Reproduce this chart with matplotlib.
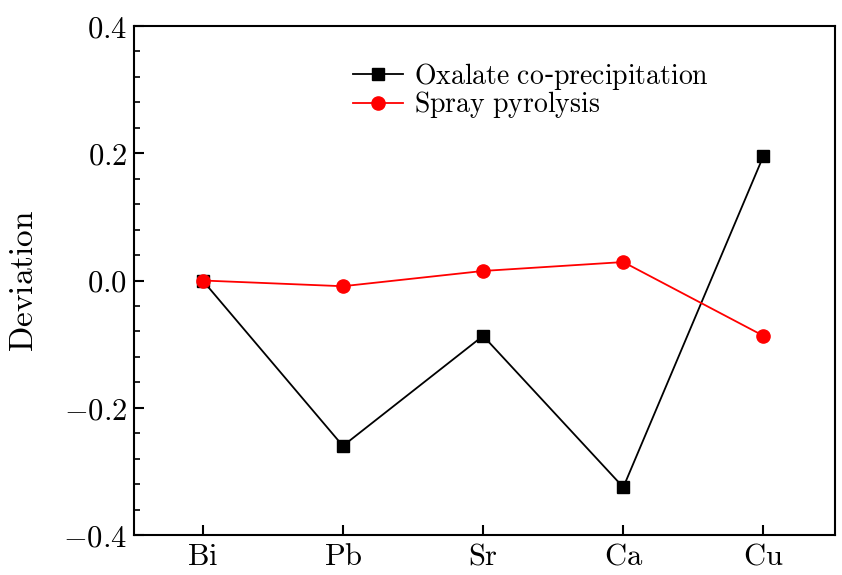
import matplotlib
matplotlib.use("Agg")
import matplotlib.pyplot as plt
from matplotlib.ticker import MultipleLocator

plt.rcParams['mathtext.fontset'] = 'cm'
plt.rcParams['axes.formatter.use_mathtext'] = True

## data ##
elements = ["Bi", "Pb", "Sr", "Ca", "Cu"]
oxalate = [0.0, -0.26, -0.087, -0.325, 0.196]
spray = [0.0, -0.009, 0.015, 0.029, -0.087]


def cm_text(s):
    # computer modern through mathtext
    return r"$\mathrm{%s}$" % s.replace(" ", r"\ ")


fig = plt.figure(figsize=(8.42, 5.75), dpi=100)
ax = fig.add_axes([134/842, 1 - 535/575, (835-134)/842, (535-26)/575])

x = list(range(len(elements)))
ax.plot(x, oxalate, 'k-', marker='s', markersize=8, lw=1.3,
        label=r"$\mathrm{Oxalate\ co}$-$\mathrm{precipitation}$")
ax.plot(x, spray, '-', color='red', marker='o', markersize=9.5, lw=1.3,
        label=cm_text("Spray pyrolysis"))

ax.set_xlim(-0.49, 4.51)
ax.set_ylim(-0.4, 0.4)
ax.set_xticks(x)
ax.set_xticklabels([cm_text(e) for e in elements])
ax.yaxis.set_major_locator(MultipleLocator(0.2))
ax.yaxis.set_minor_locator(MultipleLocator(0.04))
ax.yaxis.set_major_formatter(matplotlib.ticker.FuncFormatter(
    lambda v, p: r"$%.1f$" % v))

for s in ax.spines.values():
    s.set_linewidth(1.5)
ax.tick_params(axis='both', which='major', direction='in', length=7, width=1.5,
               labelsize=22, top=False, right=False)
ax.tick_params(axis='y', which='minor', direction='in', length=4, width=1.2)
ax.tick_params(axis='x', pad=5)
ax.tick_params(axis='y', pad=5)

ax.set_ylabel(cm_text("Deviation"), fontsize=24, labelpad=16.5)

ax.legend(loc='upper left', bbox_to_anchor=(0.277, 0.981), frameon=False,
          fontsize=20, handlelength=1.8, labelspacing=-0.08, handletextpad=0.4)

fig.savefig("out.png", dpi=100)
